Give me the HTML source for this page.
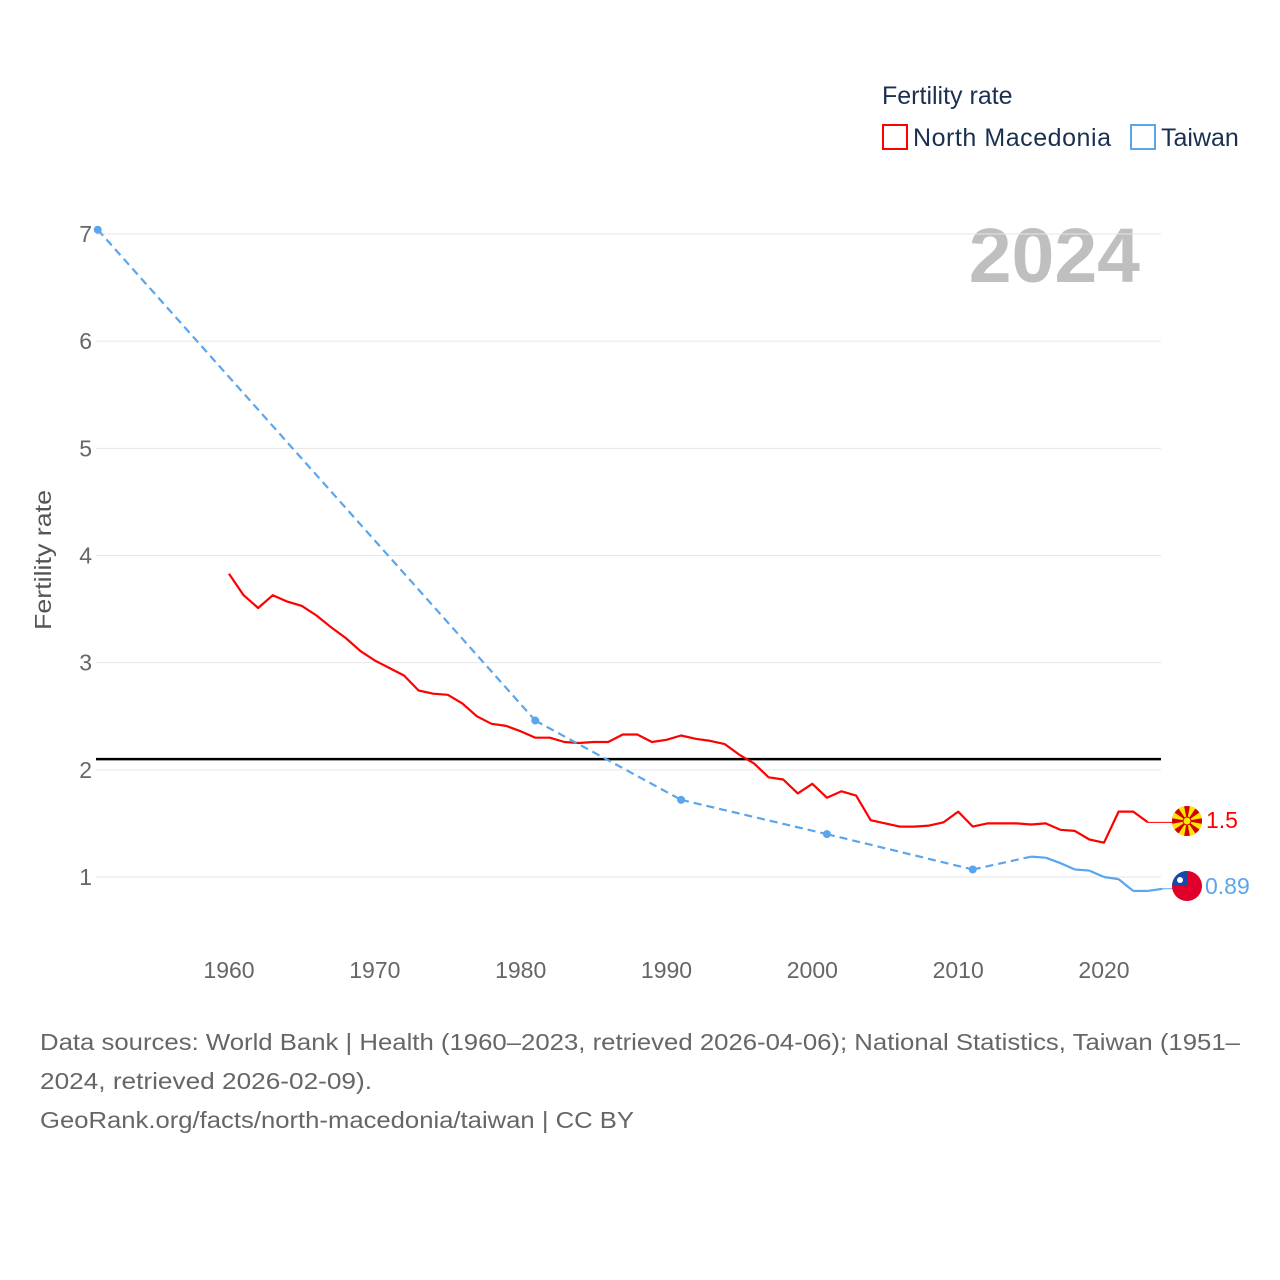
<!DOCTYPE html>
<html><head><meta charset="utf-8">
<style>
html,body{margin:0;padding:0;background:#fff;}
body{width:1280px;height:1280px;position:relative;overflow:hidden;font-family:"Liberation Sans",sans-serif;}
svg{position:absolute;left:0;top:0;}
</style></head>
<body>
<svg id="chart" width="1280" height="1280">
  <text x="882" y="104" font-size="25" fill="#1b2f50">Fertility rate</text>
  <g>
    <rect x="883" y="125" width="24" height="24" fill="none" stroke="#ff0000" stroke-width="2"/>
    <text x="913" y="146" font-size="25" fill="#1b2f50" textLength="198" lengthAdjust="spacing">North Macedonia</text>
  </g>
  <g>
    <rect x="1131" y="125" width="24" height="24" fill="none" stroke="#5aa5ec" stroke-width="2"/>
    <text x="1161" y="146" font-size="25" fill="#1b2f50">Taiwan</text>
  </g>
  <text x="1140" y="282" text-anchor="end" font-size="77" font-weight="bold" fill="#bfbfbf">2024</text>
  <text transform="translate(51,560) rotate(-90)" text-anchor="middle" font-size="23" fill="#555" textLength="140" lengthAdjust="spacingAndGlyphs">Fertility rate</text>
  <g id="grid"></g>
  <g id="marks"></g>
  <g>
    <circle cx="1187" cy="821" r="15" fill="#d20000"/>
    <clipPath id="mkc"><circle cx="1187" cy="821" r="15"/></clipPath>
    <g id="sunrays" fill="#ffe600" clip-path="url(#mkc)"></g>
    <circle cx="1187" cy="821" r="4" fill="#ffe600" stroke="#d20000" stroke-width="1"/>
  </g>
  <g>
    <clipPath id="tw"><circle cx="1187" cy="886" r="15"/></clipPath>
    <g clip-path="url(#tw)">
      <rect x="1170" y="869" width="34" height="34" fill="#e0002a"/>
      <rect x="1170" y="869" width="17" height="17" fill="#1848a8"/>
      <circle cx="1180" cy="880" r="3" fill="#fff"/>
    </g>
  </g>
  <text x="1206" y="828" font-size="23" fill="#ff0000">1.5</text>
  <text x="1205" y="894" font-size="23" fill="#5aa5ec">0.89</text>
  <g font-size="23.5" fill="#666">
    <text x="40" y="1050" textLength="1200" lengthAdjust="spacingAndGlyphs">Data sources: World Bank | Health (1960–2023, retrieved 2026-04-06); National Statistics, Taiwan (1951–</text>
    <text x="40" y="1089" textLength="332" lengthAdjust="spacingAndGlyphs">2024, retrieved 2026-02-09).</text>
    <text x="40" y="1128" textLength="594" lengthAdjust="spacingAndGlyphs">GeoRank.org/facts/north-macedonia/taiwan | CC BY</text>
  </g>
</svg>
<script>
const yTicks=[1,2,3,4,5,6,7];
const xTicks=[1960,1970,1980,1990,2000,2010,2020];
const replacementRate=[2.1];
const mkYears=[1960,1961,1962,1963,1964,1965,1966,1967,1968,1969,1970,1971,1972,1973,1974,1975,1976,1977,1978,1979,1980,1981,1982,1983,1984,1985,1986,1987,1988,1989,1990,1991,1992,1993,1994,1995,1996,1997,1998,1999,2000,2001,2002,2003,2004,2005,2006,2007,2008,2009,2010,2011,2012,2013,2014,2015,2016,2017,2018,2019,2020,2021,2022,2023];
const mkValues=[3.83,3.63,3.51,3.63,3.57,3.53,3.44,3.33,3.23,3.11,3.02,2.95,2.88,2.74,2.71,2.70,2.62,2.50,2.43,2.41,2.36,2.30,2.30,2.26,2.25,2.26,2.26,2.33,2.33,2.26,2.28,2.32,2.29,2.27,2.24,2.14,2.06,1.93,1.91,1.78,1.87,1.74,1.80,1.76,1.53,1.50,1.47,1.47,1.48,1.51,1.61,1.47,1.50,1.50,1.50,1.49,1.50,1.44,1.43,1.35,1.32,1.61,1.61,1.51];
const twYears=[1951,1981,1991,2001,2011,2015,2016,2017,2018,2019,2020,2021,2022,2023,2024];
const twValues=[7.04,2.46,1.72,1.40,1.07,1.19,1.18,1.13,1.07,1.06,1.00,0.98,0.87,0.87,0.89];
const endYear=2025.1;

const NS="http://www.w3.org/2000/svg";
const X=yr=>229+(yr-1960)*(1104-229)/60;
const Y=v=>877-(v-1)*(877-234)/6;
function el(tag,attrs,parent){const e=document.createElementNS(NS,tag);for(const k in attrs)e.setAttribute(k,attrs[k]);parent.appendChild(e);return e;}
const grid=document.getElementById('grid'),marks=document.getElementById('marks');
yTicks.forEach(t=>{
  const l=el('line',{x1:96,x2:1161,y1:Y(t),y2:Y(t),stroke:'#e6e6e6','stroke-width':1},grid);
  
  
  const tx=el('text',{x:92,y:Y(t)+8,'text-anchor':'end','font-size':23,fill:'#666'},grid);
  tx.textContent=t;
  
  
});
xTicks.forEach(t=>{
  const tx=el('text',{x:X(t),y:978,'text-anchor':'middle','font-size':23,fill:'#666'},grid);
  tx.textContent=t;
  
  
});
const ref=el('line',{x1:96,x2:1161,y1:Y(replacementRate[0]),y2:Y(replacementRate[0]),stroke:'#000','stroke-width':2.5},marks);



const mkPts=mkYears.map((y,i)=>X(y).toFixed(1)+','+Y(mkValues[i]).toFixed(1));
const mk=el('polyline',{points:mkPts.join(' '),fill:'none',stroke:'#ff0000','stroke-width':2.2,'stroke-linejoin':'round'},marks);


const mkLast=mkValues[mkValues.length-1];
const mkExt=el('line',{x1:X(mkYears[mkYears.length-1]),y1:Y(mkLast),x2:X(endYear),y2:Y(mkLast),stroke:'#ff0000','stroke-width':1},marks);



for(let i=0;i<twYears.length-1;i++){
  const gap=twYears[i+1]-twYears[i]>1;
  const s=el('line',{x1:X(twYears[i]),y1:Y(twValues[i]),x2:X(twYears[i+1]),y2:Y(twValues[i+1]),stroke:'#5aa5ec','stroke-width':2.2,'stroke-dasharray':gap?'8,5':'none','stroke-linecap':'butt'},marks);
  
  
}
twYears.forEach((y,i)=>{
  const prevGap=i===0||y-twYears[i-1]>1, nextGap=i===twYears.length-1||twYears[i+1]-y>1;
  if(prevGap&&nextGap){
    const c=el('circle',{cx:X(y),cy:Y(twValues[i]),r:4,fill:'#5aa5ec'},marks);
    
    
  }
});
const twLast=twValues[twValues.length-1];
const twExt=el('line',{x1:X(twYears[twYears.length-1]),y1:Y(twLast),x2:X(endYear),y2:Y(twLast),stroke:'#5aa5ec','stroke-width':1},marks);



const rays=document.getElementById('sunrays');
for(let k=0;k<8;k++){
  const a=k*Math.PI/4+Math.PI/8, w=0.2;
  const p=[[1187,821],[1187+16*Math.cos(a-w),821+16*Math.sin(a-w)],[1187+16*Math.cos(a+w),821+16*Math.sin(a+w)]];
  el('polygon',{points:p.map(q=>q.join(',')).join(' ')},rays);
}
</script>
</body></html>
